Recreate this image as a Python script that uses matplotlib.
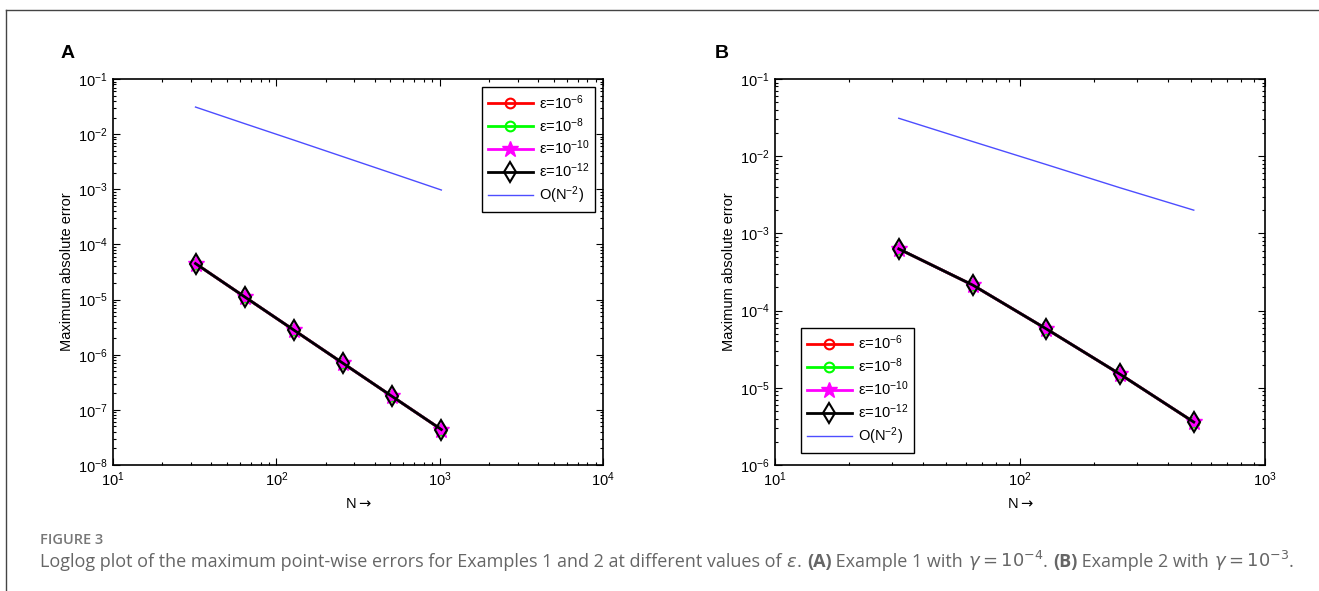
import numpy as np
import matplotlib
matplotlib.use("Agg")
import matplotlib.pyplot as plt
from matplotlib.ticker import LogLocator, NullFormatter, LogFormatterSciNotation

plt.rcParams["font.family"] = ["Liberation Sans", "DejaVu Sans"]
plt.rcParams["mathtext.fontset"] = "custom"
plt.rcParams["mathtext.rm"] = "Liberation Sans"
plt.rcParams["mathtext.it"] = "Liberation Sans:italic"
plt.rcParams["mathtext.bf"] = "Liberation Sans:bold"

# ── data ────────────────────────────────────────────────────────────────
eps_labels = ["ε=10$^{-6}$", "ε=10$^{-8}$", "ε=10$^{-10}$", "ε=10$^{-12}$"]
order_label = "O(N$^{-2}$)"

n_a = [32, 64, 128, 256, 512, 1024]
err_a = [4.5e-5, 1.12e-5, 2.8e-6, 7.0e-7, 1.75e-7, 4.4e-8]
ref_a = [3.1e-2, 1.55e-2, 7.8e-3, 3.9e-3, 1.95e-3, 9.7e-4]

n_b = [32, 64, 128, 256, 512]
err_b = [6.3e-4, 2.15e-4, 5.8e-5, 1.5e-5, 3.6e-6]
ref_b = [3.1e-2, 1.55e-2, 7.8e-3, 3.9e-3, 2.0e-3]

styles = [
    dict(color="#ff0000", marker="o", ms=7, mfc="none", mew=1.5),
    dict(color="#00ff00", marker="o", ms=7, mfc="none", mew=1.5),
    dict(color="#ff00ff", marker="*", ms=12, mfc="#ff00ff", mew=1.0),
    dict(color="#000000", marker="d", ms=10, mfc="none", mew=1.5),
]

W, H = 1319, 591
FS = 10.5
fig = plt.figure(figsize=(W / 100, H / 100), dpi=100)


def setup_axes(ax, xlim, ylim):
    ax.set_xscale("log")
    ax.set_yscale("log")
    ax.set_xlim(*xlim)
    ax.set_ylim(*ylim)
    for axis in (ax.xaxis, ax.yaxis):
        axis.set_major_locator(LogLocator(base=10, numticks=20))
        axis.set_minor_locator(LogLocator(base=10, subs=np.arange(2, 10), numticks=20))
        axis.set_minor_formatter(NullFormatter())
        axis.set_major_formatter(LogFormatterSciNotation())
    ax.tick_params(which="both", direction="in", top=True, right=True,
                   labelsize=FS, width=0.8, pad=4)
    ax.tick_params(which="major", length=5)
    ax.tick_params(which="minor", length=2.5)
    for sp in ax.spines.values():
        sp.set_linewidth(1.2)
    ax.set_xlabel(r"N$\rightarrow$", fontsize=FS, labelpad=6, math_fontfamily="dejavusans")
    ax.set_ylabel("Maximum absolute error", fontsize=FS, labelpad=3)


def draw_panel(ax, n, err, ref):
    for lab, st in zip(eps_labels, styles):
        ax.plot(n, err, linewidth=2, label=lab, **st)
    ax.plot(n, ref, color="#4d4dff", linewidth=1.0, label=order_label)


legend_kw = dict(borderaxespad=0, fontsize=FS, handlelength=3.1, labelspacing=0.3,
                 fancybox=False, edgecolor="black", framealpha=1,
                 handletextpad=0.4, borderpad=0.4)

ax_a = fig.add_axes([113 / W, 1 - 465 / H, 490 / W, 386 / H])
setup_axes(ax_a, (10, 1e4), (1e-8, 1e-1))
draw_panel(ax_a, n_a, err_a, ref_a)
ax_a.legend(loc="upper right", bbox_to_anchor=(0.984, 0.979), **legend_kw)

ax_b = fig.add_axes([775 / W, 1 - 465 / H, 490 / W, 386 / H])
setup_axes(ax_b, (10, 1e3), (1e-6, 1e-1))
draw_panel(ax_b, n_b, err_b, ref_b)
ax_b.legend(loc="lower left", bbox_to_anchor=(0.053, 0.031), **legend_kw)

fig.text(61 / W, 1 - 54 / H, "A", fontsize=14, fontweight="bold", va="center")
fig.text(715 / W, 1 - 54 / H, "B", fontsize=14, fontweight="bold", va="center")

# frame around the figure (top and left edge only, as in the page crop)
fig.add_artist(plt.Line2D([6 / W, 1.0], [1 - 10 / H, 1 - 10 / H], color="#444444", linewidth=1.0))
fig.add_artist(plt.Line2D([6 / W, 6 / W], [0.0, 1 - 10 / H], color="#444444", linewidth=1.0))

# caption
cap_font = ["Open Sans", "DejaVu Sans"]
fig.text(40 / W, 1 - 544 / H, "FIGURE 3", fontsize=10.5, color="#777777",
         family=cap_font, fontweight="semibold", fontstretch="normal", va="baseline")

pieces = [
    ("Loglog plot of the maximum point-wise errors for Examples 1 and 2 at different values of ", "normal", False),
    (r"$\varepsilon$", "normal", True),
    (". ", "normal", False),
    ("(A)", "bold", False),
    (" Example 1 with ", "normal", False),
    (r"$\gamma = 10^{-4}$", "normal", True),
    (". ", "normal", False),
    ("(B)", "bold", False),
    (" Example 2 with ", "normal", False),
    (r"$\gamma = 10^{-3}$", "normal", True),
    (".", "normal", False),
]
renderer = fig.canvas.get_renderer()
x = 40
y = 1 - 567 / H
for txt, weight, is_math in pieces:
    kw = dict(fontsize=13.0, color="#666666", va="baseline")
    if is_math:
        t = fig.text(x / W, y, txt, math_fontfamily="dejavusans", **kw)
    else:
        t = fig.text(x / W, y, txt, family=cap_font, fontweight=weight,
                     fontstretch="normal", **kw)
    x += t.get_window_extent(renderer=renderer).width

fig.savefig("out.png", dpi=100)
